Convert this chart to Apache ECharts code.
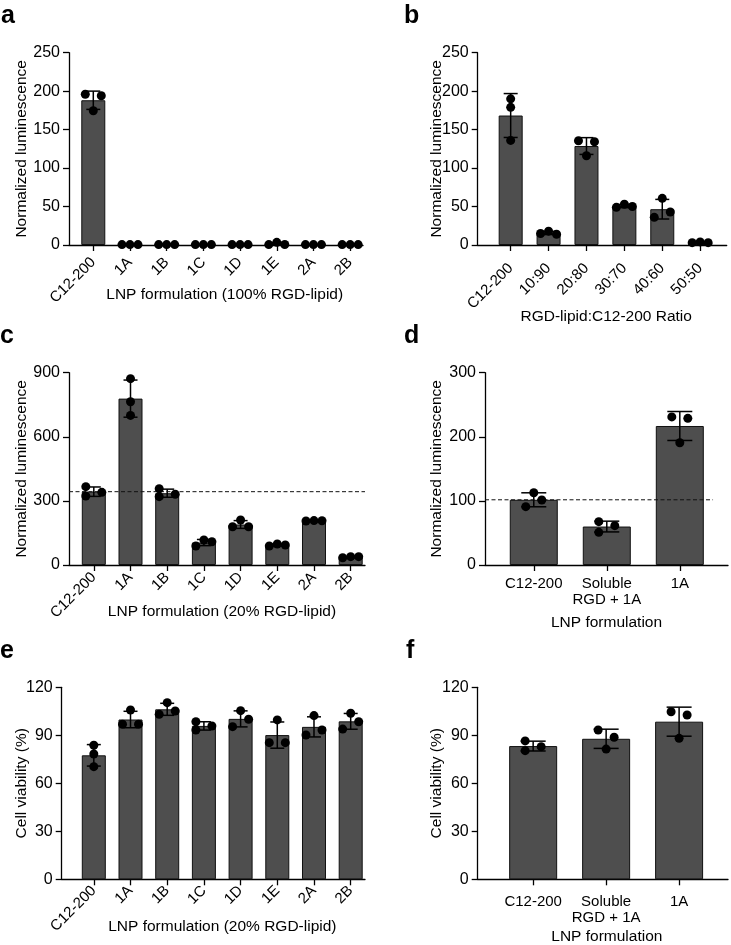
<!DOCTYPE html>
<html><head><meta charset="utf-8">
<script src="https://cdn.jsdelivr.net/npm/echarts@6/dist/echarts.min.js"></script>
<style>html,body{margin:0;padding:0;background:#fff}#c{width:731px;height:945px}</style>
</head><body><div id="c"></div>
<script>
// ---------- DATA ----------
const aCategories = ['C12-200','1A','1B','1C','1D','1E','2A','2B'];
const aReplicates = [[196,174.5,194],[0.5,0.5,0.5],[0.5,0.5,0.5],[0.5,0.5,0.5],[0.5,0.5,0.5],[0.5,3.5,0.6],[0.5,0.5,0.5],[0.5,0.5,0.5]];
const aYTicks = [0,50,100,150,200,250];

const bCategories = ['C12-200','10:90','20:80','30:70','40:60','50:50'];
const bReplicates = [[190,179,136],[15,18,14],[135.6,116.1,134.3],[49,53,50],[36,60.7,42.9],[3,4,3]];
const bYTicks = [0,50,100,150,200,250];

const cCategories = ['C12-200','1A','1B','1C','1D','1E','2A','2B'];
const cReplicates = [[366.6,322.9,340],[872,764,700],[357,320,331],[89,117,109],[179,210.6,179],[89,98.3,93.6],[206,208,207],[34,39,39]];
const cYTicks = [0,300,600,900];

const dCategories = ['C12-200','Soluble\nRGD + 1A','1A'];
const dReplicates = [[91,112.8,101.4],[67.6,51,61.4],[231,228.8,190.8]];
const dYTicks = [0,100,200,300];

const eCategories = ['C12-200','1A','1B','1C','1D','1E','2A','2B'];
const eReplicates = [[83.75,78.3,70.4],[105.8,96.9,96.9],[110.4,103.1,105.2],[98.5,93.3,95.8],[105.4,95.4,100],[99.6,85.4,85.4],[102.3,90.2,93.3],[103.75,93.9,98.5]];
const eYTicks = [0,30,60,90,120];

const fCategories = ['C12-200','Soluble\nRGD + 1A','1A'];
const fReplicates = [[86.5,80.4,82.9],[93.3,88.75,81.4],[104.75,102.7,88.1]];
const fYTicks = [0,30,60,90,120];

const yTitleLum = 'Normalized luminescence';
const yTitleViab = 'Cell viability (%)';
const aXTitle = 'LNP formulation (100% RGD-lipid)';
const bXTitle = 'RGD-lipid:C12-200 Ratio';
const cXTitle = 'LNP formulation (20% RGD-lipid)';
const dXTitle = 'LNP formulation';
const eXTitle = 'LNP formulation (20% RGD-lipid)';
const fXTitle = 'LNP formulation';

// ---------- DOT LAYOUT (horizontal slots, -1 left / 0 centre / 1 right) ----------
const S3 = [-1,0,1];
const aSlots = [[-1,0,1],S3,S3,S3,S3,S3,S3,S3];
const bSlots = [[0,0,0],S3,[-1,0,1],S3,[-1,0,1],S3];
const cSlots = [[-1,-1,1],[0,0,0],[-1,-1,1],S3,S3,S3,S3,S3];
const dSlots = [[-1,0,1],[-1,-1,1],[-1,1,0]];
const eSlots = [[0,0,0],[0,-1,1],[0,-1,1],[-1,-1,1],[0,-1,1],[0,-1,1],[0,-1,1],[0,-1,1]];
const fSlots = [[-1,-1,1],[-1,1,0],[-1,1,0]];

// ---------- HELPERS ----------
const FONT = "'Liberation Sans', Arial, Helvetica, sans-serif";
const mean = a => a.reduce((s,v)=>s+v,0)/a.length;
const sd = a => { const m = mean(a); return Math.sqrt(a.reduce((s,v)=>s+(v-m)*(v-m),0)/(a.length-1)); };

const panels = [
  {cats:aCategories, reps:aReplicates, slots:aSlots, yTicks:aYTicks, yTitle:yTitleLum, xTitle:aXTitle,
   grid:{left:69,top:52.7,width:294,height:192.3}, xr:[-0.662,7.35], barW:24, cap:7, rotate:45, lm:15,
   yGap:39, xGap:42, xShift:8.7, ref:null},
  {cats:bCategories, reps:bReplicates, slots:bSlots, yTicks:bYTicks, yTitle:yTitleLum, xTitle:bXTitle,
   grid:{left:477.7,top:52.7,width:249,height:192.3}, xr:[-0.87,5.7], barW:24, cap:7, rotate:45, lm:21,
   yGap:33, xGap:64, xShift:4, ref:null},
  {cats:cCategories, reps:cReplicates, slots:cSlots, yTicks:cYTicks, yTitle:yTitleLum, xTitle:cXTitle,
   grid:{left:69,top:372.7,width:296,height:192.3}, xr:[-0.676,7.39], barW:24, cap:7, rotate:45, lm:10,
   yGap:39, xGap:39, xShift:5, ref:[-0.676,7.39]},
  {cats:dCategories, reps:dReplicates, slots:dSlots, yTicks:dYTicks, yTitle:yTitleLum, xTitle:dXTitle,
   grid:{left:485,top:372.7,width:243,height:192.3}, xr:[-0.668,2.66], barW:48, cap:12.5, rotate:0, lm:11,
   yGap:40, xGap:50, xShift:0, ref:[-0.668,2.455]},
  {cats:eCategories, reps:eReplicates, slots:eSlots, yTicks:eYTicks, yTitle:yTitleViab, xTitle:eXTitle,
   grid:{left:61.7,top:687.3,width:303.3,height:192}, xr:[-0.875,7.39], barW:24, cap:7, rotate:45, lm:9,
   yGap:32, xGap:39, xShift:9, ref:null},
  {cats:fCategories, reps:fReplicates, slots:fSlots, yTicks:fYTicks, yTitle:yTitleViab, xTitle:fXTitle,
   grid:{left:477.7,top:687.3,width:250.3,height:192}, xr:[-0.76,2.67], barW:48, cap:12.5, rotate:0, lm:15,
   yGap:33, xGap:49.5, xShift:4, ref:null}
];

const option = {animation:false, textStyle:{fontFamily:FONT}, grid:[], xAxis:[], yAxis:[], series:[], graphic:[]};

panels.forEach((p, k) => {
  option.grid.push(Object.assign({containLabel:false, outerBoundsMode:'none'}, p.grid));
  const idx = p.cats.map((_,i)=>i);
  const axisLine = {show:true, onZero:false, lineStyle:{color:'#000', width:1.3}};
  const axisTick = {show:true, inside:false, length:6, lineStyle:{color:'#000', width:1.3}};
  option.xAxis.push({
    type:'value', gridIndex:k, min:p.xr[0], max:p.xr[1],
    axisLine, splitLine:{show:false},
    axisTick:Object.assign({customValues:idx}, axisTick),
    axisLabel:{customValues:idx, rotate:p.rotate, margin:p.lm, fontSize:15, color:'#000', lineHeight:16,
               fontFamily:FONT, formatter:v=>p.cats[Math.round(v)], hideOverlap:false},
    name:p.xTitle, nameLocation:'middle', nameGap:p.xGap, nameMoveOverlap:false,
    nameTextStyle:{fontSize:15.5, color:'#000', fontFamily:FONT, padding:[0,0,0,2*p.xShift]}
  });
  const yt = p.yTicks;
  option.yAxis.push({
    type:'value', gridIndex:k, min:yt[0], max:yt[yt.length-1], interval:yt[1]-yt[0],
    axisLine, axisTick, splitLine:{show:false},
    axisLabel:{fontSize:16, color:'#000', margin:9, fontFamily:FONT},
    name:p.yTitle, nameLocation:'middle', nameRotate:90, nameGap:p.yGap, nameMoveOverlap:false,
    nameTextStyle:{fontSize:15.5, color:'#000', fontFamily:FONT}
  });
  const means = p.reps.map(mean), sds = p.reps.map(sd);
  option.series.push({
    type:'bar', xAxisIndex:k, yAxisIndex:k, barWidth:p.barW, z:2,
    itemStyle:{color:'#4e4e4e', borderColor:'#111', borderWidth:1},
    data:means.map((m,i)=>[i,m])
  });
  const cap = p.cap;
  option.series.push({
    type:'custom', xAxisIndex:k, yAxisIndex:k, z:3, clip:false,
    encode:{x:0, y:1},
    data:means.map((m,i)=>[i,m,sds[i]]),
    renderItem:(params, api) => {
      const x = api.value(0), m = api.value(1), s = api.value(2);
      const t = api.coord([x, m+s]), b = api.coord([x, m-s]);
      const st = {stroke:'#000', lineWidth:1.5};
      return {type:'group', children:[
        {type:'line', shape:{x1:t[0],y1:t[1],x2:b[0],y2:b[1]}, style:st},
        {type:'line', shape:{x1:t[0]-cap,y1:t[1],x2:t[0]+cap,y2:t[1]}, style:st},
        {type:'line', shape:{x1:b[0]-cap,y1:b[1],x2:b[0]+cap,y2:b[1]}, style:st}
      ]};
    }
  });
  const pts = [];
  p.reps.forEach((r,i)=>r.forEach((v,j)=>pts.push({value:[i,v], symbolOffset:[p.slots[i][j]*8,0]})));
  option.series.push({
    type:'scatter', xAxisIndex:k, yAxisIndex:k, z:5, clip:false,
    symbol:'circle', symbolSize:9, itemStyle:{color:'#000', opacity:1}, data:pts
  });
  if (p.ref) {
    const rv = means[0];
    option.series.push({
      type:'line', xAxisIndex:k, yAxisIndex:k, z:4, symbol:'none', clip:false,
      lineStyle:{color:'#111', width:1, type:[4,2.5]},
      data:[[p.ref[0], rv],[p.ref[1], rv]]
    });
  }
});

const labelStyle = {fontSize:25, fontWeight:'bold', fill:'#000', fontFamily:FONT};
[['a',1,15],['b',404,15],['c',0,335],['d',404,335],['e',0,650],['f',406,650]].forEach(([t,x,y])=>{
  option.graphic.push({type:'text', left:x, top:y-11, style:Object.assign({text:t}, labelStyle)});
});

const chart = echarts.init(document.getElementById('c'), null, {renderer:'canvas'});
chart.setOption(option);
</script>
</body></html>
